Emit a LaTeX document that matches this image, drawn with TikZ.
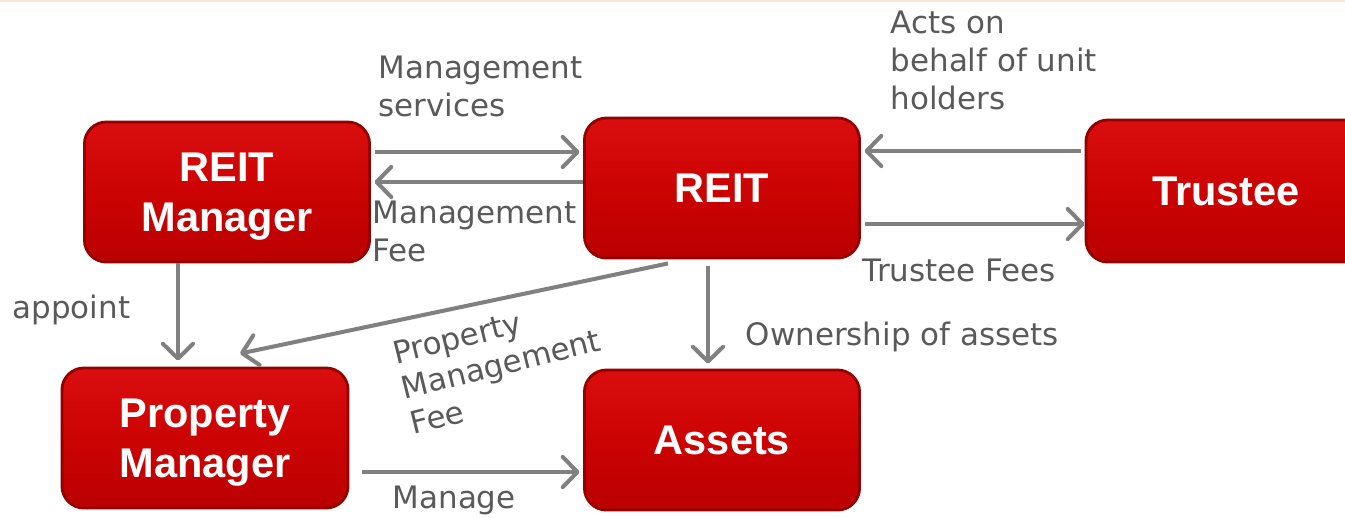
\documentclass[tikz,border=0pt]{standalone}
\usepackage{fontspec}
\setmainfont{Liberation Sans}
\newfontfamily\lblfont{DejaVu Sans}
\usepackage{xcolor}
\usepackage{tikz}
\usetikzlibrary{arrows.meta,positioning,calc}
\definecolor{boxred}{HTML}{CC0303}
\definecolor{boxtop}{HTML}{DA0E0E}
\definecolor{boxlow}{HTML}{BA0000}
\definecolor{boxedge}{HTML}{940000}
\definecolor{flowgray}{HTML}{808080}
\definecolor{lblgray}{HTML}{595959}
\definecolor{rimpink}{HTML}{FBE3D8}

\begin{document}
\begin{tikzpicture}[
            x=0.01cm, y=-0.01cm,
            party/.style={rectangle, rounded corners=0.22cm, draw=boxedge, line width=0.8pt,
                    top color=boxtop, bottom color=boxlow, middle color=boxred,
                    text=white, align=center, inner sep=0pt, text depth=0pt,
                    font=\bfseries\fontsize{11.8}{14.2}\selectfont},
            flow/.style={draw=flowgray, line width=1.15pt,
                    -{Straight Barb[length=4.2pt, width=8.6pt, round]}},
            lbl/.style={text=lblgray, align=left, inner sep=0pt,
                    font=\lblfont\fontsize{8.8}{10.8}\selectfont}
        ]

        \useasboundingbox (0,0) rectangle (1345,517);
        \draw[rimpink, line width=0.8pt] (0,1) -- (1345,1);

        % =============== parties ===============
        \node[party, minimum width=2.85cm, minimum height=1.40cm] (mgr)     at (227,192) {REIT\\Manager};
        \node[party, minimum width=2.75cm, minimum height=1.40cm] (reit)    at (722,188) {REIT};
        \node[party, minimum width=2.80cm, minimum height=1.42cm] (trustee) at (1226,191) {Trustee};
        \node[party, minimum width=2.86cm, minimum height=1.40cm] (pm)      at (205,438) {Property\\Manager};
        \node[party, minimum width=2.75cm, minimum height=1.40cm] (assets)  at (722,440) {Assets};

        % =============== flows between parties ===============
        \draw[flow, shorten <=1pt, shorten >=1pt]
        ([yshift=4mm]mgr.east) -- ([yshift=4mm]mgr.east -| reit.west);
        \draw[flow, shorten >=1pt]
        ([yshift=0.6mm]reit.west) -- ([yshift=0.6mm]reit.west -| mgr.east);
        \draw[flow, shorten <=1pt, shorten >=1pt]
        ([yshift=4mm]trustee.west) -- ([yshift=4mm]trustee.west -| reit.east);
        \draw[flow, shorten <=1pt]
        ([yshift=-3.6mm]reit.east) -- ([yshift=-3.6mm]reit.east -| trustee.west);

        \draw[flow, shorten >=0.6mm]
        ([xshift=-4.9mm]mgr.south) -- ([xshift=-4.9mm]mgr.south |- pm.north);
        \draw[flow]
        ([xshift=-5.4mm,yshift=-0.4mm]reit.south) -- ([xshift=3.5mm,yshift=1.3mm]pm.north);
        \draw[flow, shorten <=0.7mm, shorten >=0.5mm]
        ([xshift=-1.4mm]reit.south) -- ([xshift=-1.4mm]reit.south |- assets.north);
        \draw[flow, shorten <=1.2mm, shorten >=1pt]
        ([yshift=-3.4mm]pm.east) -- ([yshift=-3.4mm]pm.east -| assets.west);

        % =============== flow labels ===============
        \node[lbl, anchor=north west] (svc)   at (378,55)  {Management\\services};
        \node[lbl, anchor=north west] (fee)   at (372,200) {Management\\Fee};
        \node[lbl, anchor=north west] (acts)  at (890,10)  {Acts on\\behalf of unit\\holders};
        \node[lbl, anchor=north west] (tfees) at (862,258) {Trustee Fees};
        \node[lbl, anchor=west]       (appt)  at (12,310)  {appoint};
        \node[lbl, anchor=west]       (own)   at (745,337) {Ownership of assets};
        \node[lbl, anchor=west]       (mng)   at (392,500) {Manage};
        \node[lbl, rotate=14, font=\lblfont\fontsize{8.8}{10.3}\selectfont]
                                      (pmfee) at (501,364) {Property\\Management\\Fee};

    \end{tikzpicture}
\end{document}
